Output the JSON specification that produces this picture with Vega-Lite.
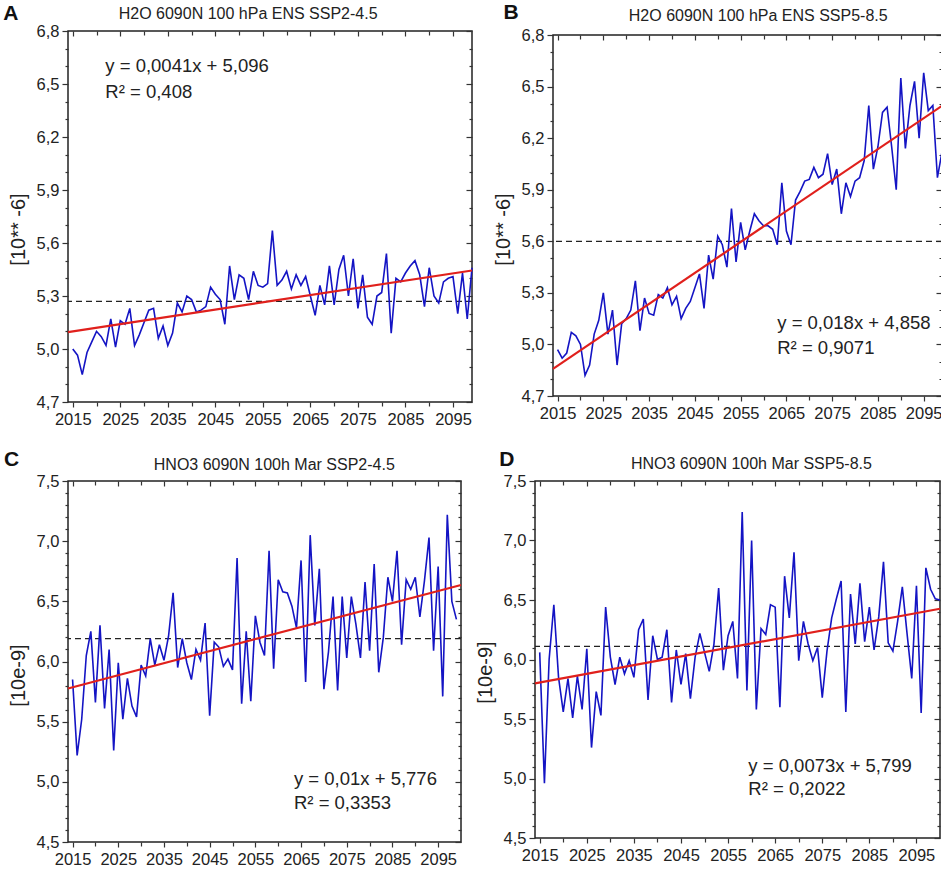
{
  "$schema": "https://vega.github.io/schema/vega-lite/v6.json",
  "padding": {"left": 2, "top": 0, "right": 0, "bottom": 0},
  "background": "white",
  "datasets": {
    "a": [
      {"year": 2015, "value": 5.00}, {"year": 2016, "value": 4.965}, {"year": 2017, "value": 4.855}, {"year": 2018, "value": 4.98}, {"year": 2019, "value": 5.04},
      {"year": 2020, "value": 5.10}, {"year": 2021, "value": 5.07}, {"year": 2022, "value": 5.02}, {"year": 2023, "value": 5.17}, {"year": 2024, "value": 5.01},
      {"year": 2025, "value": 5.16}, {"year": 2026, "value": 5.14}, {"year": 2027, "value": 5.23}, {"year": 2028, "value": 5.02}, {"year": 2029, "value": 5.08},
      {"year": 2030, "value": 5.15}, {"year": 2031, "value": 5.22}, {"year": 2032, "value": 5.23}, {"year": 2033, "value": 5.06}, {"year": 2034, "value": 5.13},
      {"year": 2035, "value": 5.02}, {"year": 2036, "value": 5.09}, {"year": 2037, "value": 5.26}, {"year": 2038, "value": 5.21}, {"year": 2039, "value": 5.30},
      {"year": 2040, "value": 5.28}, {"year": 2041, "value": 5.21}, {"year": 2042, "value": 5.22}, {"year": 2043, "value": 5.24}, {"year": 2044, "value": 5.35},
      {"year": 2045, "value": 5.31}, {"year": 2046, "value": 5.28}, {"year": 2047, "value": 5.14}, {"year": 2048, "value": 5.47}, {"year": 2049, "value": 5.28},
      {"year": 2050, "value": 5.42}, {"year": 2051, "value": 5.40}, {"year": 2052, "value": 5.28}, {"year": 2053, "value": 5.44}, {"year": 2054, "value": 5.36},
      {"year": 2055, "value": 5.35}, {"year": 2056, "value": 5.37}, {"year": 2057, "value": 5.67}, {"year": 2058, "value": 5.36}, {"year": 2059, "value": 5.39},
      {"year": 2060, "value": 5.44}, {"year": 2061, "value": 5.34}, {"year": 2062, "value": 5.42}, {"year": 2063, "value": 5.36}, {"year": 2064, "value": 5.41},
      {"year": 2065, "value": 5.30}, {"year": 2066, "value": 5.19}, {"year": 2067, "value": 5.36}, {"year": 2068, "value": 5.25}, {"year": 2069, "value": 5.47},
      {"year": 2070, "value": 5.25}, {"year": 2071, "value": 5.45}, {"year": 2072, "value": 5.53}, {"year": 2073, "value": 5.30}, {"year": 2074, "value": 5.51},
      {"year": 2075, "value": 5.23}, {"year": 2076, "value": 5.42}, {"year": 2077, "value": 5.18}, {"year": 2078, "value": 5.14}, {"year": 2079, "value": 5.30},
      {"year": 2080, "value": 5.32}, {"year": 2081, "value": 5.54}, {"year": 2082, "value": 5.09}, {"year": 2083, "value": 5.40}, {"year": 2084, "value": 5.38},
      {"year": 2085, "value": 5.43}, {"year": 2086, "value": 5.47}, {"year": 2087, "value": 5.50}, {"year": 2088, "value": 5.42}, {"year": 2089, "value": 5.24},
      {"year": 2090, "value": 5.46}, {"year": 2091, "value": 5.30}, {"year": 2092, "value": 5.26}, {"year": 2093, "value": 5.38}, {"year": 2094, "value": 5.40},
      {"year": 2095, "value": 5.41}, {"year": 2096, "value": 5.20}, {"year": 2097, "value": 5.43}, {"year": 2098, "value": 5.17}, {"year": 2099, "value": 5.46}
    ],
    "b": [
      {"year": 2015, "value": 4.97}, {"year": 2016, "value": 4.92}, {"year": 2017, "value": 4.95}, {"year": 2018, "value": 5.07}, {"year": 2019, "value": 5.05},
      {"year": 2020, "value": 5.00}, {"year": 2021, "value": 4.82}, {"year": 2022, "value": 4.88}, {"year": 2023, "value": 5.06}, {"year": 2024, "value": 5.14},
      {"year": 2025, "value": 5.30}, {"year": 2026, "value": 5.06}, {"year": 2027, "value": 5.20}, {"year": 2028, "value": 4.88}, {"year": 2029, "value": 5.12},
      {"year": 2030, "value": 5.15}, {"year": 2031, "value": 5.20}, {"year": 2032, "value": 5.37}, {"year": 2033, "value": 5.08}, {"year": 2034, "value": 5.27},
      {"year": 2035, "value": 5.18}, {"year": 2036, "value": 5.17}, {"year": 2037, "value": 5.29}, {"year": 2038, "value": 5.27}, {"year": 2039, "value": 5.33},
      {"year": 2040, "value": 5.23}, {"year": 2041, "value": 5.28}, {"year": 2042, "value": 5.15}, {"year": 2043, "value": 5.21}, {"year": 2044, "value": 5.25},
      {"year": 2045, "value": 5.33}, {"year": 2046, "value": 5.41}, {"year": 2047, "value": 5.21}, {"year": 2048, "value": 5.52}, {"year": 2049, "value": 5.38},
      {"year": 2050, "value": 5.63}, {"year": 2051, "value": 5.58}, {"year": 2052, "value": 5.45}, {"year": 2053, "value": 5.79}, {"year": 2054, "value": 5.48},
      {"year": 2055, "value": 5.71}, {"year": 2056, "value": 5.55}, {"year": 2057, "value": 5.66}, {"year": 2058, "value": 5.76}, {"year": 2059, "value": 5.72},
      {"year": 2060, "value": 5.69}, {"year": 2061, "value": 5.69}, {"year": 2062, "value": 5.67}, {"year": 2063, "value": 5.58}, {"year": 2064, "value": 5.94},
      {"year": 2065, "value": 5.66}, {"year": 2066, "value": 5.58}, {"year": 2067, "value": 5.84}, {"year": 2068, "value": 5.89}, {"year": 2069, "value": 5.95},
      {"year": 2070, "value": 5.96}, {"year": 2071, "value": 6.03}, {"year": 2072, "value": 5.97}, {"year": 2073, "value": 5.99}, {"year": 2074, "value": 6.11},
      {"year": 2075, "value": 5.93}, {"year": 2076, "value": 6.02}, {"year": 2077, "value": 5.76}, {"year": 2078, "value": 5.94}, {"year": 2079, "value": 5.86},
      {"year": 2080, "value": 5.95}, {"year": 2081, "value": 5.97}, {"year": 2082, "value": 6.07}, {"year": 2083, "value": 6.39}, {"year": 2084, "value": 6.02},
      {"year": 2085, "value": 6.15}, {"year": 2086, "value": 6.35}, {"year": 2087, "value": 6.38}, {"year": 2088, "value": 6.15}, {"year": 2089, "value": 5.90},
      {"year": 2090, "value": 6.55}, {"year": 2091, "value": 6.14}, {"year": 2092, "value": 6.39}, {"year": 2093, "value": 6.53}, {"year": 2094, "value": 6.20},
      {"year": 2095, "value": 6.58}, {"year": 2096, "value": 6.36}, {"year": 2097, "value": 6.39}, {"year": 2098, "value": 5.97}, {"year": 2099, "value": 6.12}
    ],
    "c": [
      {"year": 2015, "value": 5.85}, {"year": 2016, "value": 5.22}, {"year": 2017, "value": 5.52}, {"year": 2018, "value": 6.05}, {"year": 2019, "value": 6.25},
      {"year": 2020, "value": 5.66}, {"year": 2021, "value": 6.30}, {"year": 2022, "value": 5.61}, {"year": 2023, "value": 6.10}, {"year": 2024, "value": 5.26},
      {"year": 2025, "value": 5.99}, {"year": 2026, "value": 5.52}, {"year": 2027, "value": 5.86}, {"year": 2028, "value": 5.63}, {"year": 2029, "value": 5.54},
      {"year": 2030, "value": 5.97}, {"year": 2031, "value": 5.88}, {"year": 2032, "value": 6.19}, {"year": 2033, "value": 5.97}, {"year": 2034, "value": 6.14},
      {"year": 2035, "value": 6.01}, {"year": 2036, "value": 6.21}, {"year": 2037, "value": 6.57}, {"year": 2038, "value": 5.95}, {"year": 2039, "value": 6.19},
      {"year": 2040, "value": 5.99}, {"year": 2041, "value": 5.85}, {"year": 2042, "value": 6.10}, {"year": 2043, "value": 6.01}, {"year": 2044, "value": 6.32},
      {"year": 2045, "value": 5.55}, {"year": 2046, "value": 6.16}, {"year": 2047, "value": 6.12}, {"year": 2048, "value": 5.96}, {"year": 2049, "value": 6.02},
      {"year": 2050, "value": 5.93}, {"year": 2051, "value": 6.86}, {"year": 2052, "value": 5.65}, {"year": 2053, "value": 6.25}, {"year": 2054, "value": 5.67},
      {"year": 2055, "value": 6.38}, {"year": 2056, "value": 6.16}, {"year": 2057, "value": 6.05}, {"year": 2058, "value": 6.92}, {"year": 2059, "value": 5.94},
      {"year": 2060, "value": 6.68}, {"year": 2061, "value": 6.58}, {"year": 2062, "value": 6.57}, {"year": 2063, "value": 6.46}, {"year": 2064, "value": 6.28},
      {"year": 2065, "value": 6.84}, {"year": 2066, "value": 5.83}, {"year": 2067, "value": 7.05}, {"year": 2068, "value": 6.30}, {"year": 2069, "value": 6.77},
      {"year": 2070, "value": 5.77}, {"year": 2071, "value": 6.08}, {"year": 2072, "value": 6.54}, {"year": 2073, "value": 5.76}, {"year": 2074, "value": 6.54},
      {"year": 2075, "value": 6.03}, {"year": 2076, "value": 6.54}, {"year": 2077, "value": 6.31}, {"year": 2078, "value": 6.03}, {"year": 2079, "value": 6.66},
      {"year": 2080, "value": 6.09}, {"year": 2081, "value": 6.81}, {"year": 2082, "value": 5.91}, {"year": 2083, "value": 6.20}, {"year": 2084, "value": 6.70},
      {"year": 2085, "value": 6.50}, {"year": 2086, "value": 6.92}, {"year": 2087, "value": 6.14}, {"year": 2088, "value": 6.68}, {"year": 2089, "value": 6.60},
      {"year": 2090, "value": 6.70}, {"year": 2091, "value": 6.37}, {"year": 2092, "value": 6.67}, {"year": 2093, "value": 7.03}, {"year": 2094, "value": 6.09},
      {"year": 2095, "value": 6.79}, {"year": 2096, "value": 5.71}, {"year": 2097, "value": 7.22}, {"year": 2098, "value": 6.50}, {"year": 2099, "value": 6.35}
    ],
    "d": [
      {"year": 2015, "value": 6.06}, {"year": 2016, "value": 4.96}, {"year": 2017, "value": 6.00}, {"year": 2018, "value": 6.46}, {"year": 2019, "value": 5.85},
      {"year": 2020, "value": 5.56}, {"year": 2021, "value": 5.84}, {"year": 2022, "value": 5.51}, {"year": 2023, "value": 5.86}, {"year": 2024, "value": 5.58},
      {"year": 2025, "value": 6.09}, {"year": 2026, "value": 5.26}, {"year": 2027, "value": 5.73}, {"year": 2028, "value": 5.53}, {"year": 2029, "value": 6.44},
      {"year": 2030, "value": 6.02}, {"year": 2031, "value": 5.79}, {"year": 2032, "value": 6.02}, {"year": 2033, "value": 5.88}, {"year": 2034, "value": 5.99},
      {"year": 2035, "value": 5.85}, {"year": 2036, "value": 6.25}, {"year": 2037, "value": 6.34}, {"year": 2038, "value": 5.66}, {"year": 2039, "value": 6.20},
      {"year": 2040, "value": 6.00}, {"year": 2041, "value": 6.02}, {"year": 2042, "value": 6.25}, {"year": 2043, "value": 5.64}, {"year": 2044, "value": 6.08},
      {"year": 2045, "value": 5.79}, {"year": 2046, "value": 6.05}, {"year": 2047, "value": 5.67}, {"year": 2048, "value": 6.02}, {"year": 2049, "value": 6.22},
      {"year": 2050, "value": 6.06}, {"year": 2051, "value": 5.90}, {"year": 2052, "value": 6.13}, {"year": 2053, "value": 6.60}, {"year": 2054, "value": 5.91},
      {"year": 2055, "value": 6.20}, {"year": 2056, "value": 6.32}, {"year": 2057, "value": 5.84}, {"year": 2058, "value": 7.24}, {"year": 2059, "value": 5.74},
      {"year": 2060, "value": 7.00}, {"year": 2061, "value": 5.58}, {"year": 2062, "value": 6.26}, {"year": 2063, "value": 6.21}, {"year": 2064, "value": 6.46},
      {"year": 2065, "value": 6.44}, {"year": 2066, "value": 5.60}, {"year": 2067, "value": 6.70}, {"year": 2068, "value": 6.35}, {"year": 2069, "value": 6.90},
      {"year": 2070, "value": 5.99}, {"year": 2071, "value": 6.32}, {"year": 2072, "value": 6.13}, {"year": 2073, "value": 5.99}, {"year": 2074, "value": 6.10},
      {"year": 2075, "value": 5.68}, {"year": 2076, "value": 6.07}, {"year": 2077, "value": 6.35}, {"year": 2078, "value": 6.51}, {"year": 2079, "value": 6.66},
      {"year": 2080, "value": 5.56}, {"year": 2081, "value": 6.55}, {"year": 2082, "value": 6.13}, {"year": 2083, "value": 6.64}, {"year": 2084, "value": 6.15},
      {"year": 2085, "value": 6.44}, {"year": 2086, "value": 6.08}, {"year": 2087, "value": 6.36}, {"year": 2088, "value": 6.82}, {"year": 2089, "value": 6.14},
      {"year": 2090, "value": 6.07}, {"year": 2091, "value": 6.32}, {"year": 2092, "value": 6.61}, {"year": 2093, "value": 6.22}, {"year": 2094, "value": 5.84},
      {"year": 2095, "value": 6.62}, {"year": 2096, "value": 5.55}, {"year": 2097, "value": 6.77}, {"year": 2098, "value": 6.59}, {"year": 2099, "value": 6.51},
      {"year": 2100, "value": 6.50}
    ]
  },
  "vconcat": [
    {
      "hconcat": [
        {
          "spacing": 0,
          "vconcat": [
            {"width": 1, "height": 1, "view": {"stroke": null}, "data": {"values": []}, "mark": "rule", "encoding": {}},
            {
              "width": 404,
              "height": 371,
              "resolve": {"axis": {"x": "independent", "y": "independent"}},
              "layer": [
                {
                  "data": {"values": [{"mean": 5.27}]},
                  "mark": {"type": "rule", "color": "#222222", "strokeWidth": 1.3, "strokeDash": [6, 4]},
                  "encoding": {"y": {"field": "mean", "type": "quantitative", "axis": null}}
                },
                {
                  "data": {"name": "a"},
                  "mark": {"type": "line", "color": "#1414c4", "strokeWidth": 1.6},
                  "encoding": {
                    "x": {"field": "year", "type": "quantitative", "scale": {"domain": [2014, 2099], "nice": false, "zero": false},
                      "axis": {"title": null, "values": [2015, 2020, 2025, 2030, 2035, 2040, 2045, 2050, 2055, 2060, 2065, 2070, 2075, 2080, 2085, 2090, 2095], "format": "d",
                        "labelExpr": "(datum.value - 2015) % 10 === 0 ? datum.label : ''",
                        "tickSize": {"condition": {"test": "(datum.value - 2015) % 10 === 0", "value": 5}, "value": 4}, "labelPadding": 4}},
                    "y": {"field": "value", "type": "quantitative", "scale": {"domain": [4.7, 6.8], "nice": false, "zero": false},
                      "axis": {"title": "[10** -6]", "titleY": 198, "values": [4.7, 4.8, 4.9, 5.0, 5.1, 5.2, 5.3, 5.4, 5.5, 5.6, 5.7, 5.8, 5.9, 6.0, 6.1, 6.2, 6.3, 6.4, 6.5, 6.6, 6.7, 6.8],
                        "labelExpr": "round(datum.value * 10) % 3 === 2 ? replace(format(datum.value, '.1f'), '.', ',') : ''",
                        "tickSize": {"condition": {"test": "round(datum.value * 10) % 3 === 2", "value": 6}, "value": 3}, "labelPadding": 3, "titlePadding": 8}}
                  }
                },
                {
                  "data": {"values": [{"x0": 2014, "y0": 5.096, "x1": 2099, "y1": 5.4445}]},
                  "mark": {"type": "rule", "color": "#e0201c", "strokeWidth": 2.2},
                  "encoding": {
                    "x": {"field": "x0", "type": "quantitative",
                      "axis": {"orient": "bottom", "offset": -371, "labels": false, "title": null, "values": [2015, 2020, 2025, 2030, 2035, 2040, 2045, 2050, 2055, 2060, 2065, 2070, 2075, 2080, 2085, 2090, 2095],
                        "tickSize": {"condition": {"test": "(datum.value - 2015) % 10 === 0", "value": 5}, "value": 4}}},
                    "y": {"field": "y0", "type": "quantitative",
                      "axis": {"orient": "left", "offset": -404, "labels": false, "title": null, "values": [4.7, 4.8, 4.9, 5.0, 5.1, 5.2, 5.3, 5.4, 5.5, 5.6, 5.7, 5.8, 5.9, 6.0, 6.1, 6.2, 6.3, 6.4, 6.5, 6.6, 6.7, 6.8],
                        "tickSize": {"condition": {"test": "round(datum.value * 10) % 3 === 2", "value": 6}, "value": 3}}},
                    "x2": {"field": "x1"},
                    "y2": {"field": "y1"}
                  }
                },
                {
                  "data": {"values": [{}]},
                  "mark": {"type": "text", "text": "y = 0,0041x + 5,096", "align": "left", "baseline": "middle", "fontSize": 18.5, "color": "#222222"},
                  "encoding": {"x": {"datum": 2021.85, "type": "quantitative", "axis": null}, "y": {"datum": 6.604, "type": "quantitative", "axis": null}}
                },
                {
                  "data": {"values": [{}]},
                  "mark": {"type": "text", "text": "R² = 0,408", "align": "left", "baseline": "middle", "fontSize": 18.5, "color": "#222222"},
                  "encoding": {"x": {"datum": 2021.85, "type": "quantitative", "axis": null}, "y": {"datum": 6.456, "type": "quantitative", "axis": null}}
                },
                {
                  "data": {"values": [{}]},
                  "mark": {"type": "text", "text": "H2O 6090N 100 hPa ENS SSP2-4.5", "align": "center", "baseline": "alphabetic", "fontSize": 16, "color": "#222222"},
                  "encoding": {"x": {"datum": 2051.9, "type": "quantitative", "axis": null}, "y": {"datum": 6.867, "type": "quantitative", "axis": null}}
                },
                {
                  "data": {"values": [{}]},
                  "mark": {"type": "text", "text": "A", "align": "left", "baseline": "alphabetic", "fontSize": 21, "fontWeight": "bold", "color": "#111111"},
                  "encoding": {"x": {"datum": 2000.4, "type": "quantitative", "axis": null}, "y": {"datum": 6.865, "type": "quantitative", "axis": null}}
                }
              ]
            }
          ]
        },
        {
          "spacing": 0,
          "vconcat": [
            {"width": 1, "height": 1, "view": {"stroke": null}, "data": {"values": []}, "mark": "rule", "encoding": {}},
            {
              "width": 389,
              "height": 361,
              "resolve": {"axis": {"x": "independent", "y": "independent"}},
              "layer": [
                {
                  "data": {"values": [{"mean": 5.60}]},
                  "mark": {"type": "rule", "color": "#222222", "strokeWidth": 1.3, "strokeDash": [6, 4]},
                  "encoding": {"y": {"field": "mean", "type": "quantitative", "axis": null}}
                },
                {
                  "data": {"name": "b"},
                  "mark": {"type": "line", "color": "#1414c4", "strokeWidth": 1.6},
                  "encoding": {
                    "x": {"field": "year", "type": "quantitative", "scale": {"domain": [2014, 2099], "nice": false, "zero": false},
                      "axis": {"title": null, "values": [2015, 2020, 2025, 2030, 2035, 2040, 2045, 2050, 2055, 2060, 2065, 2070, 2075, 2080, 2085, 2090, 2095], "format": "d",
                        "labelExpr": "(datum.value - 2015) % 10 === 0 ? datum.label : ''",
                        "tickSize": {"condition": {"test": "(datum.value - 2015) % 10 === 0", "value": 5}, "value": 4}, "labelPadding": 4}},
                    "y": {"field": "value", "type": "quantitative", "scale": {"domain": [4.7, 6.8], "nice": false, "zero": false},
                      "axis": {"title": "[10** -6]", "titleY": 194, "values": [4.7, 4.8, 4.9, 5.0, 5.1, 5.2, 5.3, 5.4, 5.5, 5.6, 5.7, 5.8, 5.9, 6.0, 6.1, 6.2, 6.3, 6.4, 6.5, 6.6, 6.7, 6.8],
                        "labelExpr": "round(datum.value * 10) % 3 === 2 ? replace(format(datum.value, '.1f'), '.', ',') : ''",
                        "tickSize": {"condition": {"test": "round(datum.value * 10) % 3 === 2", "value": 6}, "value": 3}, "labelPadding": 3, "titlePadding": 8}}
                  }
                },
                {
                  "data": {"values": [{"x0": 2014, "y0": 4.858, "x1": 2099, "y1": 6.388}]},
                  "mark": {"type": "rule", "color": "#e0201c", "strokeWidth": 2.2},
                  "encoding": {
                    "x": {"field": "x0", "type": "quantitative",
                      "axis": {"orient": "bottom", "offset": -361, "labels": false, "title": null, "values": [2015, 2020, 2025, 2030, 2035, 2040, 2045, 2050, 2055, 2060, 2065, 2070, 2075, 2080, 2085, 2090, 2095],
                        "tickSize": {"condition": {"test": "(datum.value - 2015) % 10 === 0", "value": 5}, "value": 4}}},
                    "y": {"field": "y0", "type": "quantitative",
                      "axis": {"orient": "left", "offset": -389, "labels": false, "title": null, "values": [4.7, 4.8, 4.9, 5.0, 5.1, 5.2, 5.3, 5.4, 5.5, 5.6, 5.7, 5.8, 5.9, 6.0, 6.1, 6.2, 6.3, 6.4, 6.5, 6.6, 6.7, 6.8],
                        "tickSize": {"condition": {"test": "round(datum.value * 10) % 3 === 2", "value": 6}, "value": 3}}},
                    "x2": {"field": "x1"},
                    "y2": {"field": "y1"}
                  }
                },
                {
                  "data": {"values": [{}]},
                  "mark": {"type": "text", "text": "y = 0,018x + 4,858", "align": "left", "baseline": "middle", "fontSize": 18.5, "color": "#222222"},
                  "encoding": {"x": {"datum": 2063.0, "type": "quantitative", "axis": null}, "y": {"datum": 5.125, "type": "quantitative", "axis": null}}
                },
                {
                  "data": {"values": [{}]},
                  "mark": {"type": "text", "text": "R² = 0,9071", "align": "left", "baseline": "middle", "fontSize": 18.5, "color": "#222222"},
                  "encoding": {"x": {"datum": 2063.0, "type": "quantitative", "axis": null}, "y": {"datum": 4.979, "type": "quantitative", "axis": null}}
                },
                {
                  "data": {"values": [{}]},
                  "mark": {"type": "text", "text": "H2O 6090N 100 hPa ENS SSP5-8.5", "align": "center", "baseline": "alphabetic", "fontSize": 16, "color": "#222222"},
                  "encoding": {"x": {"datum": 2058.84, "type": "quantitative", "axis": null}, "y": {"datum": 6.879, "type": "quantitative", "axis": null}}
                },
                {
                  "data": {"values": [{}]},
                  "mark": {"type": "text", "text": "B", "align": "left", "baseline": "alphabetic", "fontSize": 21, "fontWeight": "bold", "color": "#111111"},
                  "encoding": {"x": {"datum": 2003.2, "type": "quantitative", "axis": null}, "y": {"datum": 6.893, "type": "quantitative", "axis": null}}
                }
              ]
            }
          ]
        }
      ],
      "spacing": 16
    },
    {
      "hconcat": [
        {
          "width": 393,
          "height": 361,
          "resolve": {"axis": {"x": "independent", "y": "independent"}},
          "layer": [
            {
              "data": {"values": [{"mean": 6.19}]},
              "mark": {"type": "rule", "color": "#222222", "strokeWidth": 1.3, "strokeDash": [6, 4]},
              "encoding": {"y": {"field": "mean", "type": "quantitative", "axis": null}}
            },
            {
              "data": {"name": "c"},
              "mark": {"type": "line", "color": "#1414c4", "strokeWidth": 1.6},
              "encoding": {
                "x": {"field": "year", "type": "quantitative", "scale": {"domain": [2014, 2100], "nice": false, "zero": false},
                  "axis": {"title": null, "values": [2015, 2020, 2025, 2030, 2035, 2040, 2045, 2050, 2055, 2060, 2065, 2070, 2075, 2080, 2085, 2090, 2095], "format": "d",
                    "labelExpr": "(datum.value - 2015) % 10 === 0 ? datum.label : ''",
                    "tickSize": {"condition": {"test": "(datum.value - 2015) % 10 === 0", "value": 5}, "value": 4}, "labelPadding": 4}},
                "y": {"field": "value", "type": "quantitative", "scale": {"domain": [4.5, 7.5], "nice": false, "zero": false},
                  "axis": {"title": "[10e-9]", "titleY": 194, "values": [4.5, 4.6, 4.7, 4.8, 4.9, 5.0, 5.1, 5.2, 5.3, 5.4, 5.5, 5.6, 5.7, 5.8, 5.9, 6.0, 6.1, 6.2, 6.3, 6.4, 6.5, 6.6, 6.7, 6.8, 6.9, 7.0, 7.1, 7.2, 7.3, 7.4, 7.5],
                    "labelExpr": "round(datum.value * 10) % 5 === 0 ? replace(format(datum.value, '.1f'), '.', ',') : ''",
                    "tickSize": {"condition": {"test": "round(datum.value * 10) % 5 === 0", "value": 6}, "value": 3}, "labelPadding": 3, "titlePadding": 8}}
              }
            },
            {
              "data": {"values": [{"x0": 2014, "y0": 5.776, "x1": 2100, "y1": 6.636}]},
              "mark": {"type": "rule", "color": "#e0201c", "strokeWidth": 2.2},
              "encoding": {
                "x": {"field": "x0", "type": "quantitative",
                  "axis": {"orient": "bottom", "offset": -361, "labels": false, "title": null, "values": [2015, 2020, 2025, 2030, 2035, 2040, 2045, 2050, 2055, 2060, 2065, 2070, 2075, 2080, 2085, 2090, 2095],
                    "tickSize": {"condition": {"test": "(datum.value - 2015) % 10 === 0", "value": 5}, "value": 4}}},
                "y": {"field": "y0", "type": "quantitative",
                  "axis": {"orient": "left", "offset": -393, "labels": false, "title": null, "values": [4.5, 4.6, 4.7, 4.8, 4.9, 5.0, 5.1, 5.2, 5.3, 5.4, 5.5, 5.6, 5.7, 5.8, 5.9, 6.0, 6.1, 6.2, 6.3, 6.4, 6.5, 6.6, 6.7, 6.8, 6.9, 7.0, 7.1, 7.2, 7.3, 7.4, 7.5],
                    "tickSize": {"condition": {"test": "round(datum.value * 10) % 5 === 0", "value": 6}, "value": 3}}},
                "x2": {"field": "x1"},
                "y2": {"field": "y1"}
              }
            },
            {
              "data": {"values": [{}]},
              "mark": {"type": "text", "text": "y = 0,01x + 5,776", "align": "left", "baseline": "middle", "fontSize": 18.5, "color": "#222222"},
              "encoding": {"x": {"datum": 2063.45, "type": "quantitative", "axis": null}, "y": {"datum": 5.024, "type": "quantitative", "axis": null}}
            },
            {
              "data": {"values": [{}]},
              "mark": {"type": "text", "text": "R² = 0,3353", "align": "left", "baseline": "middle", "fontSize": 18.5, "color": "#222222"},
              "encoding": {"x": {"datum": 2063.45, "type": "quantitative", "axis": null}, "y": {"datum": 4.824, "type": "quantitative", "axis": null}}
            },
            {
              "data": {"values": [{}]},
              "mark": {"type": "text", "text": "HNO3 6090N 100h Mar SSP2-4.5", "align": "center", "baseline": "alphabetic", "fontSize": 16, "color": "#222222"},
              "encoding": {"x": {"datum": 2059.14, "type": "quantitative", "axis": null}, "y": {"datum": 7.591, "type": "quantitative", "axis": null}}
            },
            {
              "data": {"values": [{}]},
              "mark": {"type": "text", "text": "C", "align": "left", "baseline": "alphabetic", "fontSize": 21, "fontWeight": "bold", "color": "#111111"},
              "encoding": {"x": {"datum": 2000.0, "type": "quantitative", "axis": null}, "y": {"datum": 7.625, "type": "quantitative", "axis": null}}
            }
          ]
        },
        {
          "width": 405,
          "height": 357,
          "resolve": {"axis": {"x": "independent", "y": "independent"}},
          "layer": [
            {
              "data": {"values": [{"mean": 6.11}]},
              "mark": {"type": "rule", "color": "#222222", "strokeWidth": 1.3, "strokeDash": [6, 4]},
              "encoding": {"y": {"field": "mean", "type": "quantitative", "axis": null}}
            },
            {
              "data": {"name": "d"},
              "mark": {"type": "line", "color": "#1414c4", "strokeWidth": 1.6},
              "encoding": {
                "x": {"field": "year", "type": "quantitative", "scale": {"domain": [2014, 2100], "nice": false, "zero": false},
                  "axis": {"title": null, "values": [2015, 2020, 2025, 2030, 2035, 2040, 2045, 2050, 2055, 2060, 2065, 2070, 2075, 2080, 2085, 2090, 2095], "format": "d",
                    "labelExpr": "(datum.value - 2015) % 10 === 0 ? datum.label : ''",
                    "tickSize": {"condition": {"test": "(datum.value - 2015) % 10 === 0", "value": 5}, "value": 4}, "labelPadding": 4}},
                "y": {"field": "value", "type": "quantitative", "scale": {"domain": [4.5, 7.5], "nice": false, "zero": false},
                  "axis": {"title": "[10e-9]", "titleY": 191, "values": [4.5, 4.6, 4.7, 4.8, 4.9, 5.0, 5.1, 5.2, 5.3, 5.4, 5.5, 5.6, 5.7, 5.8, 5.9, 6.0, 6.1, 6.2, 6.3, 6.4, 6.5, 6.6, 6.7, 6.8, 6.9, 7.0, 7.1, 7.2, 7.3, 7.4, 7.5],
                    "labelExpr": "round(datum.value * 10) % 5 === 0 ? replace(format(datum.value, '.1f'), '.', ',') : ''",
                    "tickSize": {"condition": {"test": "round(datum.value * 10) % 5 === 0", "value": 6}, "value": 3}, "labelPadding": 3, "titlePadding": 8}}
              }
            },
            {
              "data": {"values": [{"x0": 2014, "y0": 5.799, "x1": 2100, "y1": 6.4268}]},
              "mark": {"type": "rule", "color": "#e0201c", "strokeWidth": 2.2},
              "encoding": {
                "x": {"field": "x0", "type": "quantitative",
                  "axis": {"orient": "bottom", "offset": -357, "labels": false, "title": null, "values": [2015, 2020, 2025, 2030, 2035, 2040, 2045, 2050, 2055, 2060, 2065, 2070, 2075, 2080, 2085, 2090, 2095],
                    "tickSize": {"condition": {"test": "(datum.value - 2015) % 10 === 0", "value": 5}, "value": 4}}},
                "y": {"field": "y0", "type": "quantitative",
                  "axis": {"orient": "left", "offset": -405, "labels": false, "title": null, "values": [4.5, 4.6, 4.7, 4.8, 4.9, 5.0, 5.1, 5.2, 5.3, 5.4, 5.5, 5.6, 5.7, 5.8, 5.9, 6.0, 6.1, 6.2, 6.3, 6.4, 6.5, 6.6, 6.7, 6.8, 6.9, 7.0, 7.1, 7.2, 7.3, 7.4, 7.5],
                    "tickSize": {"condition": {"test": "round(datum.value * 10) % 5 === 0", "value": 6}, "value": 3}}},
                "x2": {"field": "x1"},
                "y2": {"field": "y1"}
              }
            },
            {
              "data": {"values": [{}]},
              "mark": {"type": "text", "text": "y = 0,0073x + 5,799", "align": "left", "baseline": "middle", "fontSize": 18.5, "color": "#222222"},
              "encoding": {"x": {"datum": 2059.3, "type": "quantitative", "axis": null}, "y": {"datum": 5.105, "type": "quantitative", "axis": null}}
            },
            {
              "data": {"values": [{}]},
              "mark": {"type": "text", "text": "R² = 0,2022", "align": "left", "baseline": "middle", "fontSize": 18.5, "color": "#222222"},
              "encoding": {"x": {"datum": 2059.3, "type": "quantitative", "axis": null}, "y": {"datum": 4.909, "type": "quantitative", "axis": null}}
            },
            {
              "data": {"values": [{}]},
              "mark": {"type": "text", "text": "HNO3 6090N 100h Mar SSP5-8.5", "align": "center", "baseline": "alphabetic", "fontSize": 16, "color": "#222222"},
              "encoding": {"x": {"datum": 2059.95, "type": "quantitative", "axis": null}, "y": {"datum": 7.603, "type": "quantitative", "axis": null}}
            },
            {
              "data": {"values": [{}]},
              "mark": {"type": "text", "text": "D", "align": "left", "baseline": "alphabetic", "fontSize": 21, "fontWeight": "bold", "color": "#111111"},
              "encoding": {"x": {"datum": 2006.4, "type": "quantitative", "axis": null}, "y": {"datum": 7.63, "type": "quantitative", "axis": null}}
            }
          ]
        }
      ],
      "spacing": 11
    }
  ],
  "spacing": 18,
  "config": {
    "font": "Liberation Sans",
    "view": {"stroke": "#222222", "strokeWidth": 1.5},
    "axis": {
      "domain": false,
      "grid": false,
      "labelFont": "Liberation Sans",
      "labelFontSize": 16.5,
      "labelColor": "#222222",
      "labelOverlap": false,
      "labelFlush": false,
      "tickColor": "#333333",
      "tickWidth": 1.2,
      "titleFont": "Liberation Sans",
      "titleFontSize": 20,
      "titleFontWeight": "normal",
      "titleColor": "#222222"
    }
  }
}
